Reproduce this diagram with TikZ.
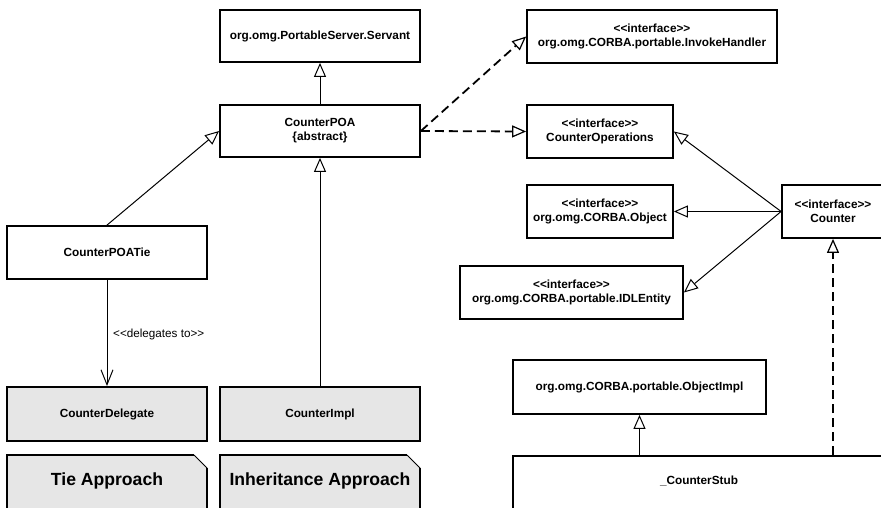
\documentclass[tikz,border=0pt]{standalone}
\usepackage{fontspec}
\setmainfont{Liberation Sans}[Ligatures=TeXOff]
\usetikzlibrary{arrows.meta}
\definecolor{notegray}{RGB}{230,230,230}
\begin{document}
\begin{tikzpicture}[x=1pt,y=-1pt,
  cls/.style={draw, line width=1.8pt, inner sep=0pt, align=center,
    font=\fontsize{11.8}{14.2}\selectfont\bfseries},
  impl/.style={cls, fill=notegray},
  gen/.style={line width=1pt, -{Triangle[open, length=14pt, width=12pt, fill=white]}},
  real/.style={line width=1.8pt, dash pattern=on 9pt off 5pt,
    -{Triangle[open, length=14pt, width=12pt, line width=1.2pt, fill=white]}},
  dep/.style={line width=1pt, -{Straight Barb[length=15pt, width=12pt]}},
  notetext/.style={font=\fontsize{17.6}{20}\selectfont\bfseries, inner sep=0pt},
  plain/.style={font=\fontsize{11.7}{14}\selectfont, inner sep=0pt}]
\useasboundingbox (0,0) rectangle (881,508);

% classes of the server side
\node[cls, minimum width=200, minimum height=52] (servant) at (320,36) {org.omg.PortableServer.Servant};
\node[cls, minimum width=200, minimum height=52] (poa) at (320,131) {CounterPOA\\{\{abstract\}}};
\node[cls, minimum width=200, minimum height=53] (tie) at (107,252.5) {CounterPOATie};
\node[impl, minimum width=200, minimum height=54] (delegate) at (107,414) {CounterDelegate};
\node[impl, minimum width=200, minimum height=54] (cimpl) at (320,414) {CounterImpl};

% interfaces
\node[cls, minimum width=250, minimum height=53] (invoke) at (652,36.5) {<<interface>>\\org.omg.CORBA.portable.InvokeHandler};
\node[cls, minimum width=146, minimum height=53] (ops) at (600,131.5) {<<interface>>\\CounterOperations};
\node[cls, minimum width=146, minimum height=53] (object) at (600,211.5) {<<interface>>\\org.omg.CORBA.Object};
\node[cls, minimum width=223, minimum height=53] (idl) at (571.5,292.5) {<<interface>>\\org.omg.CORBA.portable.IDLEntity};
\node[cls, minimum width=102, minimum height=53] (counter) at (833,211.5) {<<interface>>\\Counter};

% client side
\node[cls, minimum width=253, minimum height=54] (objimpl) at (639.5,387) {org.omg.CORBA.portable.ObjectImpl};
\node[cls, minimum width=372, minimum height=62, anchor=north] (stub) at (699,455) {};
\node[cls, draw=none] (stubname) at (699,481) {\_CounterStub};

% notes with folded corner
\foreach \x/\nm in {7/tie, 220/inh} {
  \fill[notegray] (\x,455) -- (\x+187,455) -- (\x+200,468) -- (\x+200,520) -- (\x,520) -- cycle;
  \draw[line width=1.8pt] (\x+187,455) -- (\x,455) -- (\x,520);
  \draw[line width=1.8pt] (\x+200,468) -- (\x+200,520);
  \draw[line width=0.9pt] (\x+187,455) -- (\x+200,468);
}
\node[notetext] (tienote) at (107,481) {Tie Approach};
\node[notetext] (inhnote) at (320,481) {Inheritance Approach};

% generalizations
\draw[gen] (poa) -- (servant);
\draw[gen] (tie.north) -- (poa.west);
\draw[gen] (cimpl.north) -- (poa.south);
\draw[gen] (counter.west) -- (ops.east);
\draw[gen] (counter.west) -- (object.east);
\draw[gen] (counter.west) -- (idl.east);
\coordinate (stubup) at (objimpl.south |- stub.north);
\draw[gen] (stubup) -- (objimpl.south);

% realizations
\draw[real] (poa.east) -- (invoke.west);
\draw[real] (poa.east) -- (ops.west);
\coordinate (stubreal) at (counter.south |- stub.north);
\draw[real] (stubreal) -- (counter.south);

% delegation
\draw[dep] (tie.south) -- (delegate.north);
\node[plain, anchor=west] (delegates) at (113,334) {<<delegates to>>};
\end{tikzpicture}
\end{document}
